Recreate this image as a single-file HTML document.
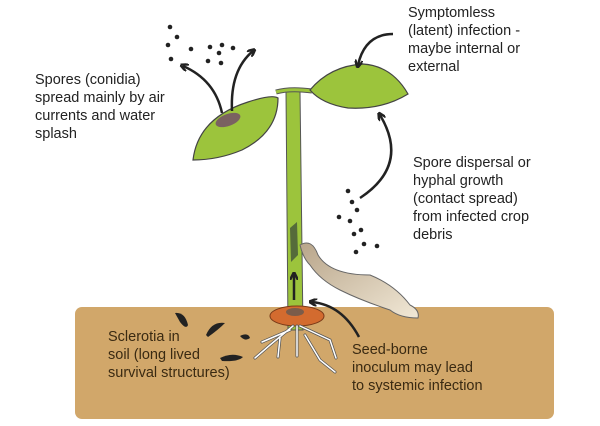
<!DOCTYPE html>
<html><head><style>
html,body{margin:0;padding:0;background:#fff;}
svg{display:block;}
text{font-family:"Liberation Sans",Arial,sans-serif;font-size:14.5px;fill:#222;}
</style></head><body>
<svg width="600" height="426" viewBox="0 0 600 426" xmlns="http://www.w3.org/2000/svg">
<defs>
<marker id="ah" markerWidth="8" markerHeight="8" refX="5" refY="4" orient="auto" markerUnits="userSpaceOnUse"><path d="M0,0 L8,4 L0,8" fill="none" stroke="#222" stroke-width="2.5"/></marker>
<linearGradient id="deb" x1="0" y1="0" x2="1" y2="1"><stop offset="0" stop-color="#b8a58a"/><stop offset="1" stop-color="#f1e8d6"/></linearGradient>
</defs>
<rect x="75" y="307" width="479" height="112" rx="7" fill="#d1a76a"/>
<!-- stem -->
<path d="M286,91 L300,91 L303,330 L288,330 Z" fill="#9cc43c" stroke="#555" stroke-width="1"/>
<path d="M276,92 Q290,88 312,91" fill="none" stroke="#555" stroke-width="5"/>
<path d="M276,92 Q290,88 312,91" fill="none" stroke="#9cc43c" stroke-width="3"/>
<path d="M290,228 L297,222 L298,255 L291,262 Z" fill="#556b3a"/>
<!-- left leaf -->
<path d="M193,160 Q198,118 248,102 Q272,94 278,98 Q278,132 242,150 Q218,160 193,160 Z" fill="#9cc43c" stroke="#444" stroke-width="1.2"/>
<ellipse cx="228" cy="120" rx="13" ry="6" fill="#7a6161" transform="rotate(-20 228 120)"/>
<!-- right leaf -->
<path d="M310,90 Q330,66 363,64 Q392,66 408,94 Q382,110 348,108 Q322,104 310,90 Z" fill="#9cc43c" stroke="#444" stroke-width="1.2"/>
<!-- debris -->
<path d="M300,245 Q312,238 318,255 Q330,275 370,275 Q395,285 410,305 Q420,310 418,318 Q400,318 390,310 Q360,300 340,290 Q320,280 310,265 Q303,258 300,245 Z" fill="url(#deb)" stroke="#666" stroke-width="1"/>
<!-- seed -->
<ellipse cx="297" cy="316" rx="27" ry="10" fill="#d36b2f" stroke="#7a3a18" stroke-width="1"/>
<ellipse cx="295" cy="312" rx="9" ry="4" fill="#555" opacity="0.7"/>
<!-- roots -->
<g stroke="#555" stroke-width="3" fill="none" stroke-linecap="round"><path d="M293,326 L270,345 L255,358 M280,338 L278,357 M297,326 L297,356 M300,326 L330,340 L336,358 M305,335 L320,360 L335,372 M290,330 L262,342"/></g>
<g stroke="#fff" stroke-width="1.5" fill="none" stroke-linecap="round"><path d="M293,326 L270,345 L255,358 M280,338 L278,357 M297,326 L297,356 M300,326 L330,340 L336,358 M305,335 L320,360 L335,372 M290,330 L262,342"/></g>
<!-- sclerotia -->
<g fill="#222"><path d="M175,313 Q185,312 188,325 Q186,330 180,322 Z"/><path d="M206,335 Q212,321 225,323 Q218,330 208,337 Z"/><path d="M240,336 Q248,332 250,338 Q245,342 240,336Z"/><path d="M220,358 Q232,352 243,357 Q238,362 222,361 Z"/></g>
<!-- arrows -->
<g stroke="#222" stroke-width="2.5" fill="none">
<path d="M222,113 Q215,80 183,66" marker-end="url(#ah)"/>
<path d="M232,111 Q230,70 253,51" marker-end="url(#ah)"/>
<path d="M393,34 Q365,34 358,65" marker-end="url(#ah)"/>
<path d="M360,198 Q410,165 380,115" marker-end="url(#ah)"/>
<path d="M359,337 Q342,305 312,302" marker-end="url(#ah)"/>
<path d="M294,300 L294,275" marker-end="url(#ah)"/>
</g>
<!-- dots -->
<g fill="#222">
<circle cx="170" cy="27" r="2.3"/><circle cx="177" cy="37" r="2.3"/><circle cx="168" cy="45" r="2.3"/><circle cx="191" cy="49" r="2.3"/><circle cx="171" cy="59" r="2.3"/><circle cx="210" cy="47" r="2.3"/><circle cx="222" cy="45" r="2.3"/><circle cx="233" cy="48" r="2.3"/><circle cx="219" cy="53" r="2.3"/><circle cx="208" cy="61" r="2.3"/><circle cx="221" cy="63" r="2.3"/>
<circle cx="348" cy="191" r="2.3"/><circle cx="352" cy="202" r="2.3"/><circle cx="357" cy="210" r="2.3"/><circle cx="339" cy="217" r="2.3"/><circle cx="350" cy="221" r="2.3"/><circle cx="361" cy="230" r="2.3"/><circle cx="354" cy="234" r="2.3"/><circle cx="364" cy="244" r="2.3"/><circle cx="377" cy="246" r="2.3"/><circle cx="356" cy="252" r="2.3"/>
</g>
<!-- labels -->
<text x="35" y="84">Spores (conidia)</text>
<text x="35" y="102">spread mainly by air</text>
<text x="35" y="120">currents and water</text>
<text x="35" y="138">splash</text>
<text x="408" y="17">Symptomless</text>
<text x="408" y="35">(latent) infection -</text>
<text x="408" y="53">maybe internal or</text>
<text x="408" y="71">external</text>
<text x="413" y="167">Spore dispersal or</text>
<text x="413" y="185">hyphal growth</text>
<text x="413" y="203">(contact spread)</text>
<text x="413" y="221">from infected crop</text>
<text x="413" y="239">debris</text>
<g style="fill:#3a2a12"><text x="108" y="341" style="fill:#3a2a12">Sclerotia in</text>
<text x="108" y="359" style="fill:#3a2a12">soil (long lived</text>
<text x="108" y="377" style="fill:#3a2a12">survival structures)</text>
<text x="352" y="354" style="fill:#3a2a12">Seed-borne</text>
<text x="352" y="372" style="fill:#3a2a12">inoculum may lead</text>
<text x="352" y="390" style="fill:#3a2a12">to systemic infection</text></g>
</svg>
</body></html>
